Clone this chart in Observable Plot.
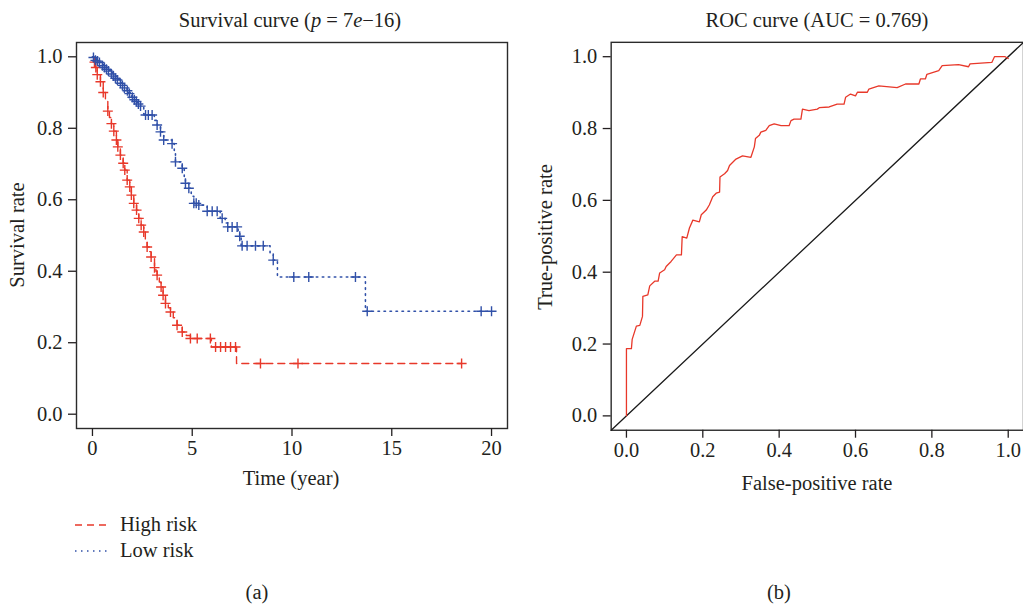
<!DOCTYPE html>
<html><head><meta charset="utf-8">
<script src="https://cdn.jsdelivr.net/npm/d3@7"></script>
<script src="https://cdn.jsdelivr.net/npm/@observablehq/plot@0.6"></script>
<style>
html,body{margin:0;padding:0;background:#fff;overflow:hidden;}
#wrap{position:relative;width:1023px;height:606px;overflow:hidden;font-family:"Liberation Serif",serif;color:#231f20;}
.t{position:absolute;transform:translate(-50%,-50%);white-space:nowrap;font-size:20.5px;line-height:1;}
.l{position:absolute;transform:translate(0,-50%);white-space:nowrap;font-size:20.5px;line-height:1;}
.plot{position:absolute;top:0;}
</style></head><body><div id="wrap">
<div id="left" class="plot" style="left:0"></div>
<div id="right" class="plot" style="left:530px"></div>
<div class="t" style="left:290px;top:20px">Survival curve (<i>p</i> = 7<i>e</i>−16)</div>
<div class="t" style="left:817px;top:20px">ROC curve (AUC = 0.769)</div>
<div class="t" style="left:291px;top:478px">Time (year)</div>
<div class="t" style="left:817px;top:483px">False-positive rate</div>
<div class="t" style="left:17px;top:235px;transform:translate(-50%,-50%) rotate(-90deg)">Survival rate</div>
<div class="t" style="left:545px;top:237px;transform:translate(-50%,-50%) rotate(-90deg)">True-positive rate</div>
<svg style="position:absolute;left:0;top:0" width="130" height="570">
  <line x1="75" x2="111" y1="525" y2="525" stroke="#e8382a" stroke-width="1.4" stroke-dasharray="7,5"/>
  <line x1="75" x2="111" y1="551" y2="551" stroke="#3050a8" stroke-width="1.6" stroke-dasharray="1.5,4.5"/>
</svg>
<div class="l" style="left:120px;top:524px">High risk</div>
<div class="l" style="left:120px;top:550px">Low risk</div>
<div class="t" style="left:257px;top:592px">(a)</div>
<div class="t" style="left:779px;top:592px">(b)</div>
</div>
<script>
// ---- Data ----
const seriesNames = ["High risk", "Low risk"];
const seriesColors = ["#e8382a", "#3050a8"];

const highTime = [0,0.08,0.15,0.24,0.4,0.54,0.65,0.77,0.85,0.95,1.07,1.2,1.27,1.4,1.54,1.62,1.74,1.87,1.95,2.07,2.21,2.32,2.44,2.57,2.65,2.74,2.85,2.94,3.11,3.18,3.24,3.35,3.44,3.54,3.66,3.8,3.91,4.05,4.24,4.5,4.7,4.91,5.96,7.22,18.5];
const highSurv = [1,0.985,0.97,0.95,0.93,0.9,0.875,0.848,0.83,0.813,0.792,0.767,0.748,0.725,0.702,0.683,0.655,0.636,0.613,0.59,0.571,0.548,0.529,0.51,0.49,0.468,0.455,0.44,0.41,0.4,0.389,0.37,0.356,0.333,0.31,0.298,0.286,0.27,0.249,0.23,0.22,0.212,0.188,0.142,0.142];
const highCensorTime = [0.1,0.17,0.24,0.4,0.54,0.77,0.95,1.07,1.2,1.27,1.4,1.54,1.62,1.74,1.87,1.95,2.07,2.21,2.32,2.44,2.57,2.74,2.94,3.11,3.24,3.44,3.54,3.66,3.91,4.24,4.5,4.91,5.25,5.91,6.17,6.42,6.67,6.92,7.17,8.42,10.3,18.5];
const highCensorSurv = [0.985,0.97,0.95,0.93,0.9,0.848,0.813,0.792,0.767,0.748,0.725,0.702,0.683,0.655,0.636,0.613,0.59,0.571,0.548,0.529,0.51,0.468,0.44,0.41,0.389,0.356,0.333,0.31,0.286,0.249,0.23,0.212,0.212,0.212,0.188,0.188,0.188,0.188,0.188,0.142,0.142,0.142];

const lowTime = [0,0.1,0.2,0.3,0.45,0.6,0.75,0.9,1.05,1.2,1.35,1.5,1.65,1.8,1.95,2.1,2.25,2.41,2.57,2.66,2.99,3.1,3.24,3.41,3.57,3.99,4.1,4.16,4.5,4.6,4.66,4.83,4.95,5.08,5.33,5.75,6.25,6.4,6.65,6.78,7.3,7.38,7.45,8.56,8.9,9.06,9.27,13.68,20.0];
const lowSurv = [1,0.995,0.99,0.985,0.978,0.97,0.962,0.955,0.946,0.937,0.928,0.92,0.91,0.9,0.89,0.88,0.872,0.862,0.84,0.837,0.837,0.822,0.809,0.79,0.767,0.757,0.73,0.706,0.688,0.665,0.646,0.632,0.61,0.59,0.585,0.568,0.568,0.548,0.535,0.524,0.51,0.498,0.471,0.471,0.452,0.431,0.384,0.288,0.288];
const lowCensorTime = [0.05,0.15,0.25,0.35,0.5,0.6,0.7,0.8,0.95,1.05,1.15,1.25,1.4,1.5,1.6,1.75,1.85,2.0,2.1,2.2,2.3,2.41,2.66,2.8,2.99,3.24,3.41,3.57,3.99,4.16,4.5,4.66,4.83,5.08,5.2,5.33,5.75,6.0,6.25,6.5,6.78,7.0,7.25,7.38,7.5,7.75,8.17,8.56,9.06,10.09,10.84,13.18,13.77,19.48,20.0];
const lowCensorSurv = [0.998,0.99,0.988,0.984,0.975,0.97,0.965,0.96,0.952,0.946,0.94,0.935,0.926,0.92,0.913,0.905,0.897,0.887,0.88,0.875,0.868,0.862,0.837,0.837,0.837,0.809,0.79,0.767,0.757,0.706,0.688,0.646,0.632,0.59,0.59,0.585,0.568,0.568,0.568,0.548,0.524,0.524,0.524,0.498,0.471,0.471,0.471,0.471,0.431,0.384,0.384,0.384,0.288,0.288,0.288];

const rocFpr = [0,0,0.013,0.015,0.026,0.035,0.042,0.043,0.056,0.061,0.074,0.083,0.087,0.1,0.104,0.117,0.131,0.144,0.146,0.158,0.165,0.174,0.191,0.196,0.209,0.217,0.226,0.235,0.244,0.245,0.257,0.265,0.27,0.283,0.287,0.304,0.326,0.335,0.338,0.348,0.352,0.365,0.374,0.387,0.405,0.426,0.431,0.439,0.457,0.461,0.478,0.5,0.505,0.531,0.552,0.57,0.574,0.587,0.6,0.605,0.631,0.635,0.661,0.709,0.731,0.766,0.77,0.783,0.787,0.818,0.827,0.87,0.896,0.9,0.957,0.964,0.992,1.0];
const rocTpr = [0,0.187,0.187,0.213,0.25,0.252,0.277,0.333,0.337,0.362,0.375,0.375,0.398,0.407,0.416,0.43,0.448,0.448,0.499,0.495,0.523,0.545,0.54,0.56,0.573,0.587,0.61,0.62,0.623,0.665,0.674,0.683,0.697,0.711,0.715,0.724,0.72,0.749,0.772,0.781,0.79,0.795,0.808,0.813,0.808,0.808,0.822,0.826,0.826,0.854,0.85,0.854,0.858,0.86,0.868,0.868,0.887,0.896,0.891,0.901,0.901,0.91,0.919,0.914,0.924,0.924,0.938,0.938,0.951,0.961,0.975,0.978,0.972,0.98,0.984,1.0,1.0,0.995];

const timeTicks = [0, 5, 10, 15, 20];
const rateTicks = [0, 0.2, 0.4, 0.6, 0.8, 1.0];

// ---- helpers ----
const zip = (xs, ys) => xs.map((x, i) => ({x, y: ys[i]}));
const rPad = (lo, hi) => { const p = (hi - lo) * 0.04; return [lo - p, hi + p]; };
const cross = {draw(ctx, size) { const r = Math.sqrt(size / Math.PI); ctx.moveTo(-r, 0); ctx.lineTo(r, 0); ctx.moveTo(0, -r); ctx.lineTo(0, r); }};
const textStyle = {fontFamily: "Liberation Serif, serif", fontSize: "20.5px", color: "#231f20", background: "transparent", overflow: "visible"};
const frameColor = "#2b2b2b";

const allTimes = highTime.concat(lowTime);
const timeDomain = rPad(d3.min(allTimes), d3.max(allTimes));
const unitDomain = rPad(0, 1);

const left = Plot.plot({
  width: 520, height: 480,
  marginLeft: 76, marginRight: 13, marginTop: 42, marginBottom: 52,
  x: {domain: timeDomain},
  y: {domain: unitDomain},
  style: textStyle,
  marks: [
    Plot.frame({stroke: frameColor, strokeWidth: 1.4}),
    Plot.axisX({ticks: timeTicks, tickSize: 8, tickPadding: 4, tickFormat: d3.format("d"), strokeWidth: 1.3, label: null}),
    Plot.axisY({ticks: rateTicks, tickSize: 8, tickPadding: 6, tickFormat: d3.format(".1f"), strokeWidth: 1.3, label: null}),
    Plot.line(zip(highTime, highSurv), {x: "x", y: "y", curve: "step-after", stroke: seriesColors[0], strokeWidth: 1.4, strokeDasharray: "7,5"}),
    Plot.line(zip(lowTime, lowSurv), {x: "x", y: "y", curve: "step-after", stroke: seriesColors[1], strokeWidth: 1.6, strokeDasharray: "1.5,4.5"}),
    Plot.dot(zip(highCensorTime, highCensorSurv), {x: "x", y: "y", symbol: cross, r: 5, fill: "none", stroke: seriesColors[0], strokeWidth: 1.4}),
    Plot.dot(zip(lowCensorTime, lowCensorSurv), {x: "x", y: "y", symbol: cross, r: 5, fill: "none", stroke: seriesColors[1], strokeWidth: 1.4})
  ]
});
document.getElementById("left").append(left);

const diag = unitDomain.map(v => ({x: v, y: v}));
const right = Plot.plot({
  width: 495, height: 480,
  marginLeft: 81, marginRight: 0, marginTop: 42, marginBottom: 48.5,
  x: {domain: unitDomain},
  y: {domain: unitDomain},
  style: textStyle,
  marks: [
    Plot.frame({stroke: frameColor, strokeWidth: 1.4}),
    Plot.axisX({ticks: rateTicks, tickSize: 8, tickPadding: 4, tickFormat: d3.format(".1f"), strokeWidth: 1.3, label: null}),
    Plot.axisY({ticks: rateTicks, tickSize: 8, tickPadding: 6, tickFormat: d3.format(".1f"), strokeWidth: 1.3, label: null}),
    Plot.line(diag, {x: "x", y: "y", stroke: "#1a1a1a", strokeWidth: 1.3}),
    Plot.line(zip(rocFpr, rocTpr), {x: "x", y: "y", stroke: "#e8382a", strokeWidth: 1.3})
  ]
});
document.getElementById("right").append(right);
</script>
</body></html>
